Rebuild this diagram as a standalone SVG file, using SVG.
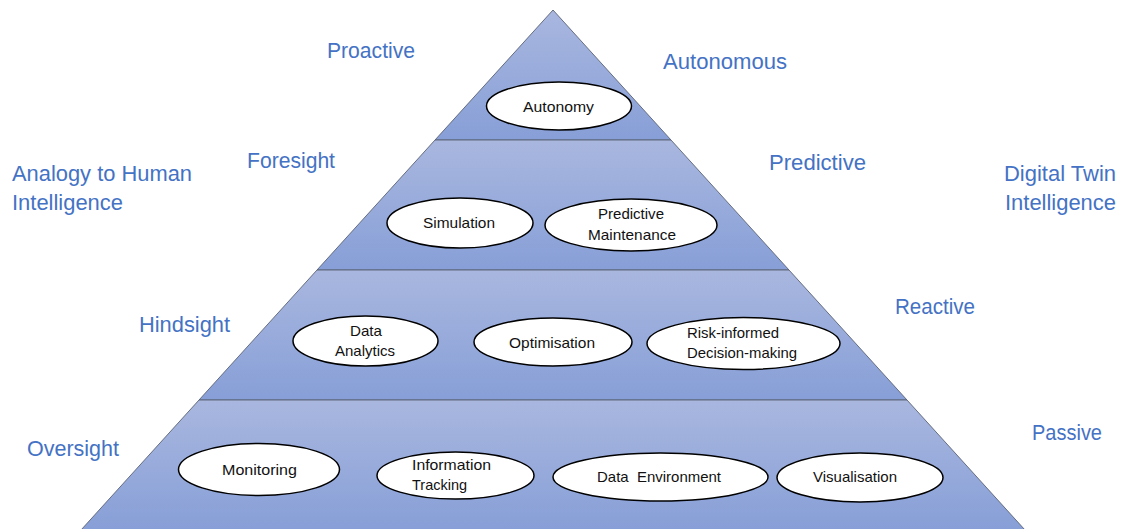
<svg xmlns="http://www.w3.org/2000/svg" width="1123" height="529" viewBox="0 0 1123 529">
  <defs>
    <linearGradient id="band" x1="0" y1="0" x2="0" y2="1">
      <stop offset="0" stop-color="#a9b7df"/>
      <stop offset="1" stop-color="#879fd7"/>
    </linearGradient>
    <style>
      .band { fill: url(#band); stroke: #5a6274; stroke-width: 0.9; }
      .node ellipse { fill: #ffffff; stroke: #000000; stroke-width: 1.5; }
      .node text { font-family: "Liberation Sans", Arial, sans-serif; font-size: 15px; fill: #111111; }
      .lbl { font-family: "Liberation Sans", Arial, sans-serif; font-size: 22px; fill: #4472c4; }
    </style>
  </defs>
  <rect width="1123" height="529" fill="#ffffff"/>

  <g id="pyramid">
    <polygon class="band" points="553,10 671,140 435,140"/>
    <polygon class="band" points="435,140 671,140 789,270 317,270"/>
    <polygon class="band" points="317,270 789,270 907,400 199,400"/>
    <polygon class="band" points="199,400 907,400 1025,530 81,530"/>
  </g>

  <g id="labels">
    <text class="lbl" x="327" y="58" textLength="88" lengthAdjust="spacingAndGlyphs">Proactive</text>
    <text class="lbl" x="663" y="69" textLength="124" lengthAdjust="spacingAndGlyphs">Autonomous</text>
    <text class="lbl" x="247" y="168" textLength="88" lengthAdjust="spacingAndGlyphs">Foresight</text>
    <text class="lbl" x="769" y="170" textLength="97" lengthAdjust="spacingAndGlyphs">Predictive</text>
    <text class="lbl" x="12" y="181" textLength="180" lengthAdjust="spacingAndGlyphs">Analogy to Human</text>
    <text class="lbl" x="12" y="210" textLength="111" lengthAdjust="spacingAndGlyphs">Intelligence</text>
    <text class="lbl" x="1004" y="181" textLength="112" lengthAdjust="spacingAndGlyphs">Digital Twin</text>
    <text class="lbl" x="1005" y="210" textLength="111" lengthAdjust="spacingAndGlyphs">Intelligence</text>
    <text class="lbl" x="139" y="332" textLength="91" lengthAdjust="spacingAndGlyphs">Hindsight</text>
    <text class="lbl" x="895" y="314" textLength="80" lengthAdjust="spacingAndGlyphs">Reactive</text>
    <text class="lbl" x="27" y="456" textLength="92" lengthAdjust="spacingAndGlyphs">Oversight</text>
    <text class="lbl" x="1032" y="440" textLength="70" lengthAdjust="spacingAndGlyphs">Passive</text>
  </g>

  <g id="autonomy" class="node">
    <ellipse cx="559" cy="106" rx="72.5" ry="24"/>
    <text x="523" y="112" textLength="71" lengthAdjust="spacingAndGlyphs">Autonomy</text>
  </g>

  <g id="simulation" class="node">
    <ellipse cx="460" cy="223" rx="73" ry="25"/>
    <text x="423" y="228" textLength="72" lengthAdjust="spacingAndGlyphs">Simulation</text>
  </g>
  <g id="predictive-maintenance" class="node">
    <ellipse cx="631" cy="225" rx="86" ry="26"/>
    <text x="598" y="219" textLength="66" lengthAdjust="spacingAndGlyphs">Predictive</text>
    <text x="588" y="240" textLength="88" lengthAdjust="spacingAndGlyphs">Maintenance</text>
  </g>

  <g id="data-analytics" class="node">
    <ellipse cx="365.5" cy="341" rx="72.5" ry="25"/>
    <text x="350" y="336" textLength="32" lengthAdjust="spacingAndGlyphs">Data</text>
    <text x="335" y="356" textLength="60" lengthAdjust="spacingAndGlyphs">Analytics</text>
  </g>
  <g id="optimisation" class="node">
    <ellipse cx="553" cy="342" rx="79" ry="24"/>
    <text x="509" y="348" textLength="86" lengthAdjust="spacingAndGlyphs">Optimisation</text>
  </g>
  <g id="risk-informed" class="node">
    <ellipse cx="743.5" cy="343.5" rx="96.5" ry="26"/>
    <text x="687" y="338" textLength="92" lengthAdjust="spacingAndGlyphs">Risk-informed</text>
    <text x="687" y="358" textLength="110" lengthAdjust="spacingAndGlyphs">Decision-making</text>
  </g>

  <g id="monitoring" class="node">
    <ellipse cx="259" cy="469.5" rx="80.5" ry="26"/>
    <text x="222" y="475" textLength="75" lengthAdjust="spacingAndGlyphs">Monitoring</text>
  </g>
  <g id="information-tracking" class="node">
    <ellipse cx="455.5" cy="475.5" rx="78.5" ry="23.5"/>
    <text x="412" y="470" textLength="79" lengthAdjust="spacingAndGlyphs">Information</text>
    <text x="412" y="490" textLength="55" lengthAdjust="spacingAndGlyphs">Tracking</text>
  </g>
  <g id="data-environment" class="node">
    <ellipse cx="660.5" cy="477" rx="107.5" ry="24"/>
    <text x="597" y="482" textLength="124" lengthAdjust="spacingAndGlyphs" xml:space="preserve">Data  Environment</text>
  </g>
  <g id="visualisation" class="node">
    <ellipse cx="860" cy="477.5" rx="83" ry="24.5"/>
    <text x="813" y="482" textLength="84" lengthAdjust="spacingAndGlyphs">Visualisation</text>
  </g>
</svg>
